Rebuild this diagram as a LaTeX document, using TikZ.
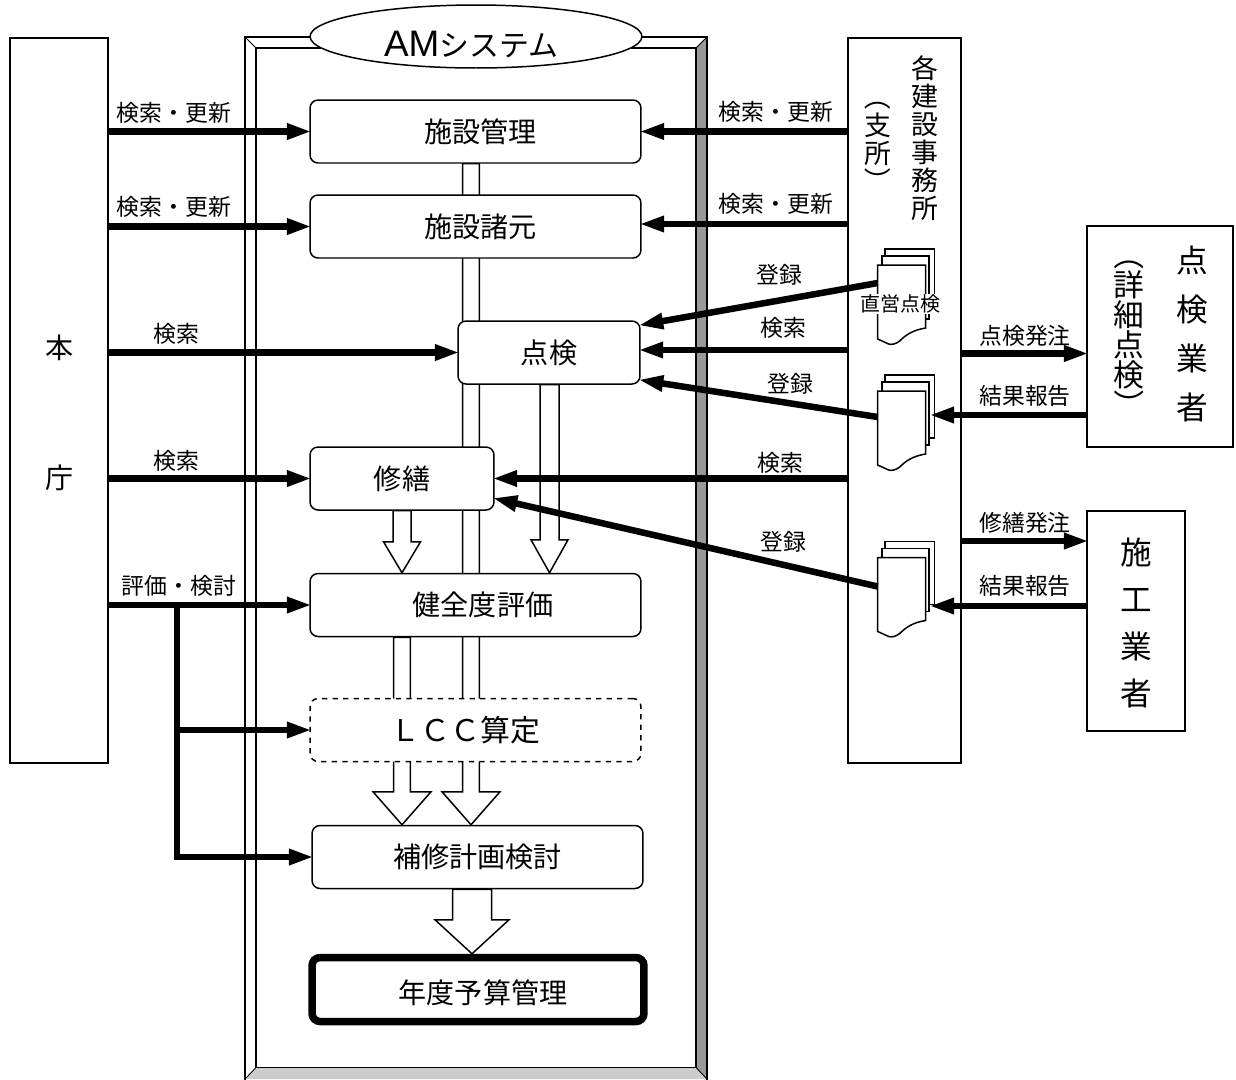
\documentclass[tikz,border=0pt]{standalone}
\usepackage{fontspec}
\setmainfont{Noto Sans CJK JP}
\newfontfamily\latinfont{Liberation Sans}
\usetikzlibrary{positioning,arrows.meta,calc,backgrounds,shapes.geometric}
\newcommand{\cjksize}[2]{\fontsize{#1}{#2}\selectfont\lineskiplimit=-1cm\relax}
\newcommand{\openv}{\rotatebox[origin=c]{-90}{（}}
\newcommand{\closev}{\rotatebox[origin=c]{-90}{）}}
\tikzset{
  procbox/.style={draw, fill=white, line width=0.85pt, rounded corners=0.16cm, minimum height=1.26cm, font=\cjksize{16}{19}},
  plainbox/.style={draw, fill=white, line width=0.85pt},
  flowline/.style={line width=0.13cm, shorten >=-0.05cm, -{Triangle[length=0.5cm, width=0.3cm]}},
  flowstem/.style={line width=0.13cm},
  hollowarrow/.style={draw, fill=white, line width=0.85pt},
  flowlabel/.style={inner sep=0pt, font=\cjksize{13}{15}},
  sheet/.style={draw, fill=white, line width=0.85pt},
}
% from, tip, half shaft, half head, head length
\newcommand{\blockarrow}[5]{
  \draw[hollowarrow] ($(#1)+(-#3,0)$) -- ($(#2)+(-#3,-#5)$) -- ($(#2)+(-#4,-#5)$) -- (#2)
    -- ($(#2)+(#4,-#5)$) -- ($(#2)+(#3,-#5)$) -- ($(#1)+(#3,0)$) -- cycle;
}
% name, x, y of the front sheet, height of the left and of the right connector
\newcommand{\docstack}[5]{
  \begin{scope}[shift={(#2,#3)}]
    \draw[sheet] (7.3,-16) rectangle (56.6,47);
    \draw[sheet] (4.3,-9) rectangle (51.3,54);
    \draw[sheet] (0,0) -- (48,0) -- (48,63) .. controls (35,65) and (28,70) .. (22,76)
      .. controls (18,79) and (14,80) .. (11,79) -- (0,74) -- cycle;
    \coordinate (#1) at (0,#4);
    \coordinate (#1r) at (54,#5);
  \end{scope}
}

\begin{document}
\begin{tikzpicture}[x=0.02cm, y=-0.02cm]
\useasboundingbox (0,0) rectangle (1236,1079);

% outer boxes
\node[plainbox, minimum width=1.96cm, minimum height=14.5cm] (honcho) at (59,400.5) {};
\node[plainbox, minimum width=2.26cm, minimum height=14.5cm] (jimusho) at (904.5,400.5) {};
\node[plainbox, minimum width=2.92cm, minimum height=4.42cm] (tenkengyo) at (1160,336.5) {};
\node[plainbox, minimum width=1.96cm, minimum height=4.4cm] (sekogyo) at (1136,621) {};

\node[align=center, font=\cjksize{16}{74}] (honchoname) at (60,413) {本\\庁};
\node[align=center, font=\cjksize{15.3}{15.9}] (jimushoname) at (925,138) {各\\建\\設\\事\\務\\所};
\node[align=center, font=\cjksize{15.3}{15.9}] (shishoname) at (878,139) {\openv\\支\\所\\\closev};
\node[align=center, font=\cjksize{18}{27.9}] (tenkengyoname) at (1192,334) {点\\検\\業\\者};
\node[align=center, font=\cjksize{17.5}{17}] (shosainame) at (1129,330) {\openv\\詳\\細\\点\\検\\\closev};
\node[align=center, font=\cjksize{18}{26.8}] (sekogyoname) at (1136,623) {施\\工\\業\\者};

% process boxes
\node[procbox, minimum width=6.62cm] (kanri) at (475.5,131.5) {\hspace*{0.2cm}施設管理};
\node[procbox, minimum width=6.62cm] (shogen) at (475.5,226.5) {\hspace*{0.2cm}施設諸元};
\node[procbox, minimum width=3.64cm] (tenken) at (549,352.5) {点検};
\node[procbox, minimum width=3.68cm] (shuzen) at (402,478.5) {修繕};
\node[procbox, minimum width=6.62cm] (kenzen) at (475.5,605) {\hspace*{0.3cm}健全度評価};
\node[procbox, minimum width=6.62cm, dashed, font=\cjksize{17}{19}] (lcc) at (475.5,730) {\hspace*{-0.4cm}ＬＣＣ算定};
\node[procbox, minimum width=6.62cm] (hoshu) at (477.5,857) {補修計画検討};
\node[procbox, minimum width=6.64cm, line width=0.15cm, minimum height=1.28cm] (nendo) at (478,989.5) {\hspace*{0.2cm}\rule{0pt}{0.62cm}年度予算管理};
\node[draw, fill=white, ellipse, line width=0.85pt, inner sep=0pt, minimum width=6.64cm, minimum height=1.26cm, font=\cjksize{17}{19}] (amsys) at (476,36.5)
  {\rule{0pt}{0.83cm}\hspace*{-0.2cm}{\latinfont\fontsize{21}{21}\selectfont AM}システム};

\coordinate (colA) at (402,0);
\coordinate (colB) at (549.5,0);
\coordinate (colC) at (471,0);
\coordinate (colD) at (472,0);

\begin{pgfonlayer}{background}
  % bevelled frame
  \fill[gray!80] (696,48) -- (707,37) -- (707,1079) -- (696,1067.5) -- cycle;
  \fill[gray!40] (256,1067.5) -- (696,1067.5) -- (707,1079) -- (245,1079) -- cycle;
  \draw[line width=0.85pt] (245,1079.5) -- (245,37) -- (707,37) -- (707,1079.5);
  \draw[line width=0.85pt] (256,48) rectangle (696,1067.5);
  \draw[line width=0.5pt] (245,37) -- (256,48) (707,37) -- (696,48) (245,1079) -- (256,1067.5) (707,1079) -- (696,1067.5);
  % hollow arrows
  \blockarrow{kanri.south -| colC}{hoshu.north -| colC}{8.3}{29}{33}
  \blockarrow{kenzen.south -| colA}{hoshu.north -| colA}{8.3}{29}{33}
  \blockarrow{shuzen.south -| colA}{kenzen.north -| colA}{9}{18.5}{31}
  \blockarrow{tenken.south -| colB}{kenzen.north -| colB}{9.5}{18.5}{33}
  \blockarrow{hoshu.south -| colD}{nendo.north -| colD}{19.5}{37}{34}
\end{pgfonlayer}

% document stacks
\docstack{docA}{877.7}{265}{18}{24}
\docstack{docB}{877.7}{391}{26}{24}
\docstack{docC}{877.7}{557.5}{29}{48.5}
\node[fill=white, inner xsep=0pt, inner ysep=0.5pt, font=\cjksize{11.4}{13}] (chokuei) at (900.5,304) {直営点検};

% head office side
\draw[flowline] (honcho.east |- kanri) -- (kanri);
\draw[flowline] (honcho.east |- shogen) -- (shogen);
\draw[flowline] (honcho.east |- tenken) -- (tenken);
\draw[flowline] (honcho.east |- shuzen) -- (shuzen);
\draw[flowline] (honcho.east |- kenzen) -- (kenzen);
\coordinate (branch) at (177,604);
\draw[flowline] (branch) |- (hoshu);
\draw[flowline] (branch |- lcc) -- (lcc);

% office side
\draw[flowline] (jimusho.west |- kanri) -- (kanri);
\draw[flowline] ([yshift=0.05cm]jimusho.west |- shogen) -- ([yshift=0.05cm]shogen.east);
\draw[flowline] ([yshift=0.05cm]jimusho.west |- tenken) -- ([yshift=0.05cm]tenken.east);
\draw[flowline] (jimusho.west |- shuzen) -- (shuzen);
\draw[flowline] (docA) -- ([yshift=0.55cm]tenken.east);
\draw[flowline] (docB) -- ([yshift=-0.55cm]tenken.east);
\draw[flowline] (docC) -- ([yshift=-0.4cm]shuzen.east);

% contractors
\draw[flowline] (jimusho.east |- 0,353.5) -- (tenkengyo.west |- 0,353.5);
\draw[flowline] (tenkengyo.west |- docBr) -- (docBr);
\draw[flowline] (jimusho.east |- 0,541) -- (sekogyo.west |- 0,541);
\draw[flowline] (sekogyo.west |- docCr) -- (docCr);

% labels
\node[flowlabel] (lbA) at (174,113) {検索・更新};
\node[flowlabel] (lbB) at (174,207) {検索・更新};
\node[flowlabel] (lbC) at (176,334) {検索};
\node[flowlabel] (lbD) at (176,461) {検索};
\node[flowlabel] (lbE) at (179,586) {評価・検討};
\node[flowlabel] (lbF) at (776,112) {検索・更新};
\node[flowlabel] (lbG) at (776,204) {検索・更新};
\node[flowlabel] (lbH) at (779,275) {登録};
\node[flowlabel] (lbI) at (783,328) {検索};
\node[flowlabel] (lbJ) at (790,384) {登録};
\node[flowlabel] (lbK) at (780,463) {検索};
\node[flowlabel] (lbL) at (783,542) {登録};
\node[flowlabel] (lbM) at (1025,336) {点検発注};
\node[flowlabel] (lbN) at (1025,396) {結果報告};
\node[flowlabel] (lbO) at (1025,523) {修繕発注};
\node[flowlabel] (lbP) at (1025,586) {結果報告};
\end{tikzpicture}
\end{document}
